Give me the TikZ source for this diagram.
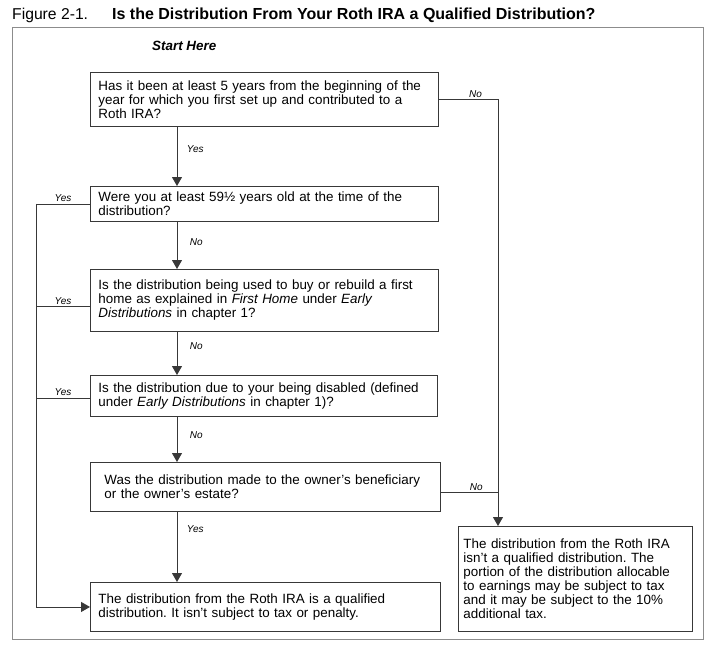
\documentclass[tikz,border=0pt]{standalone}
\usepackage{fontspec}
\setmainfont{Liberation Sans}
\usetikzlibrary{arrows.meta}
\definecolor{boxc}{gray}{0.22}
\definecolor{linec}{gray}{0.22}
\definecolor{framec}{gray}{0.55}
\frenchspacing
\begin{document}
\begin{tikzpicture}[x=1pt,y=-1pt,
  qbox/.style={draw=boxc, line width=0.9pt, rectangle, align=left, anchor=north west,
    inner xsep=8pt, inner ysep=0pt, font=\fontsize{13.4}{14}\selectfont},
  lbl/.style={font=\fontsize{10}{11}\selectfont\itshape, inner sep=1.5pt},
  conn/.style={draw=linec, line width=0.9pt},
  arr/.style={conn, -{Triangle[width=10pt,length=9pt]}},
]
\useasboundingbox (0,0) rectangle (722,662);
\fill[white] (0,0) rectangle (722,662);

% title
\node[anchor=base west, inner sep=0pt, font=\fontsize{15.7}{17}\selectfont] (fig) at (12,19) {Figure 2-1.};
\node[anchor=base west, inner sep=0pt, font=\fontsize{16}{17}\selectfont\bfseries] (title) at (112,19) {Is the Distribution From Your Roth IRA a Qualified Distribution?};
\draw[draw=framec, line width=1pt] (12,27) rectangle (703,639);

\node[anchor=base west, inner sep=0pt, font=\fontsize{13.4}{14}\selectfont\bfseries\itshape] (start) at (152,50) {Start Here};

% boxes
\node[qbox, minimum width=348pt, text width=332pt, minimum height=54pt] (b1) at (90,72)
  {Has it been at least 5 years from the beginning of the\\year for which you first set up and contributed to a\\Roth IRA?};
\node[qbox, minimum width=348pt, text width=332pt, minimum height=35pt] (b2) at (90,186)
  {Were you at least 59\textonehalf\ years old at the time of the\\distribution?};
\node[qbox, minimum width=348pt, text width=332pt, minimum height=62pt] (b3) at (90,269)
  {Is the distribution being used to buy or rebuild a first\\home as explained in \textit{First Home} under \textit{Early}\\\textit{Distributions} in chapter 1?};
\node[qbox, minimum width=347pt, text width=331pt, minimum height=41pt] (b4) at (90,375)
  {Is the distribution due to your being disabled (defined\\under \textit{Early Distributions} in chapter 1)?};
\node[qbox, minimum width=350pt, inner xsep=14pt, text width=322pt, minimum height=49pt] (b5) at (90,462)
  {Was the distribution made to the owner's beneficiary\\or the owner's estate?};
\node[qbox, minimum width=350pt, text width=334pt, minimum height=49pt] (b6) at (90,582)
  {The distribution from the Roth IRA is a qualified\\distribution. It isn't subject to tax or penalty.};
\node[qbox, minimum width=234pt, inner xsep=5pt, text width=224pt, minimum height=105pt] (b7) at (458,526)
  {The distribution from the Roth IRA\\isn't a qualified distribution. The\\portion of the distribution allocable\\to earnings may be subject to tax\\and it may be subject to the 10\%\\additional tax.};

% guide coordinates
\coordinate (cx) at (177,0);
\coordinate (lx) at (36,0);
\coordinate (rx) at (498,0);

% center column
\draw[arr] (b1.south -| cx) -- node[lbl, pos=0.38, anchor=west, xshift=8pt] {Yes} (b2.north -| cx);
\draw[arr] (b2.south -| cx) -- node[lbl, pos=0.42, anchor=west, xshift=11pt] {No} (b3.north -| cx);
\draw[arr] (b3.south -| cx) -- node[lbl, pos=0.34, anchor=west, xshift=11pt] {No} (b4.north -| cx);
\draw[arr] (b4.south -| cx) -- node[lbl, pos=0.41, anchor=west, xshift=11pt] {No} (b5.north -| cx);
\draw[arr] (b5.south -| cx) -- node[lbl, pos=0.24, anchor=west, xshift=8pt] {Yes} (b6.north -| cx);

% left Yes branches
\coordinate (y2) at (b2.west);
\coordinate (y3) at ([yshift=-6pt]b3.west);
\coordinate (y4) at ([yshift=-2pt]b4.west);
\draw[conn] (y2) -- node[lbl, midway, above] {Yes} (y2 -| lx);
\draw[conn] (y3) -- node[lbl, midway, above] {Yes} (y3 -| lx);
\draw[conn] (y4) -- node[lbl, midway, above] {Yes} (y4 -| lx);
\draw[arr] (y2 -| lx) -- (b6.west -| lx) -- (b6.west);

% right No branches
\coordinate (n5) at ([yshift=-5.5pt]b5.east);
\draw[conn] (b1.east) -- node[lbl, pos=0.62, above] {No} (b1.east -| rx);
\draw[conn] (n5) -- node[lbl, pos=0.62, above] {No} (n5 -| rx);
\draw[arr] (b1.east -| rx) -- (b7.north -| rx);
\end{tikzpicture}
\end{document}
